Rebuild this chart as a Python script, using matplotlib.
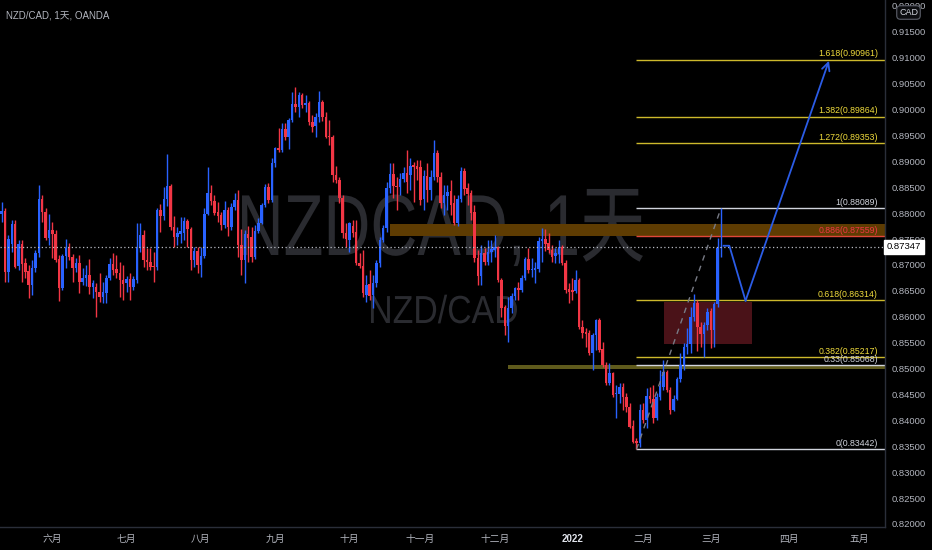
import matplotlib
matplotlib.use("Agg")
import matplotlib.pyplot as plt
from matplotlib.patches import Rectangle, PathPatch
from matplotlib.textpath import TextPath
from matplotlib.font_manager import FontProperties
from matplotlib.transforms import Affine2D
from matplotlib import font_manager
import numpy as np
import pandas as pd

# NZD/CAD daily candles, 2021-05-11 .. 2022-03-04
first_day = "2021-05-11"

opens = [
    0.8798, 0.8804, 0.8686, 0.8740, 0.8779, 0.8698, 0.8740, 0.8704, 0.8688, 0.8661,
    0.8694, 0.8723, 0.8827, 0.8802, 0.8752, 0.8767, 0.8760, 0.8711, 0.8656, 0.8717,
    0.8733, 0.8715, 0.8694, 0.8704, 0.8667, 0.8675, 0.8681, 0.8657, 0.8657, 0.8648,
    0.8638, 0.8646, 0.8675, 0.8702, 0.8692, 0.8684, 0.8671, 0.8665, 0.8673, 0.8657,
    0.8671, 0.8733, 0.8758, 0.8710, 0.8706, 0.8698, 0.8696, 0.8806, 0.8794, 0.8827,
    0.8852, 0.8773, 0.8754, 0.8760, 0.8762, 0.8785, 0.8769, 0.8710, 0.8727, 0.8700,
    0.8717, 0.8798, 0.8839, 0.8823, 0.8802, 0.8796, 0.8777, 0.8806, 0.8773, 0.8812,
    0.8825, 0.8738, 0.8710, 0.8760, 0.8754, 0.8715, 0.8765, 0.8781, 0.8816, 0.8850,
    0.8825, 0.8897, 0.8926, 0.8922, 0.8962, 0.8947, 0.8980, 0.9011, 0.9005, 0.9028,
    0.9009, 0.9013, 0.8976, 0.8968, 0.8986, 0.9014, 0.8986, 0.8949, 0.8947, 0.8874,
    0.8864, 0.8829, 0.8762, 0.8748, 0.8775, 0.8764, 0.8704, 0.8698, 0.8642, 0.8663,
    0.8642, 0.8665, 0.8704, 0.8748, 0.8771, 0.8848, 0.8875, 0.8852, 0.8850, 0.8866,
    0.8877, 0.8874, 0.8893, 0.8891, 0.8889, 0.8827, 0.8872, 0.8845, 0.8870, 0.8916,
    0.8870, 0.8819, 0.8833, 0.8843, 0.8819, 0.8781, 0.8827, 0.8881, 0.8848, 0.8839,
    0.8802, 0.8713, 0.8679, 0.8723, 0.8706, 0.8725, 0.8729, 0.8735, 0.8671, 0.8619,
    0.8582, 0.8617, 0.8640, 0.8656, 0.8652, 0.8675, 0.8711, 0.8690, 0.8690, 0.8692,
    0.8746, 0.8750, 0.8742, 0.8729, 0.8717, 0.8721, 0.8735, 0.8704, 0.8654, 0.8652,
    0.8650, 0.8671, 0.8581, 0.8571, 0.8569, 0.8530, 0.8564, 0.8594, 0.8538, 0.8507,
    0.8472, 0.8491, 0.8451, 0.8451, 0.8464, 0.8445, 0.8426, 0.8389, 0.8360, 0.8356,
    0.8420, 0.8401, 0.8447, 0.8441, 0.8404, 0.8445, 0.8464, 0.8493, 0.8459, 0.8420,
    0.8441, 0.8480, 0.8507, 0.8541, 0.8547, 0.8600, 0.8627, 0.8580, 0.8567, 0.8584,
    0.8611, 0.8574, 0.8625, 0.8733,
]
highs = [
    0.8821, 0.8810, 0.8758, 0.8787, 0.8787, 0.8748, 0.8748, 0.8713, 0.8700, 0.8710,
    0.8729, 0.8854, 0.8835, 0.8810, 0.8798, 0.8783, 0.8767, 0.8719, 0.8721, 0.8750,
    0.8742, 0.8721, 0.8713, 0.8719, 0.8694, 0.8700, 0.8711, 0.8671, 0.8665, 0.8684,
    0.8667, 0.8681, 0.8713, 0.8723, 0.8719, 0.8706, 0.8700, 0.8679, 0.8684, 0.8679,
    0.8781, 0.8781, 0.8767, 0.8733, 0.8733, 0.8725, 0.8810, 0.8818, 0.8850, 0.8914,
    0.8856, 0.8794, 0.8773, 0.8793, 0.8793, 0.8789, 0.8773, 0.8735, 0.8735, 0.8735,
    0.8810, 0.8889, 0.8854, 0.8835, 0.8821, 0.8802, 0.8823, 0.8812, 0.8819, 0.8839,
    0.8845, 0.8769, 0.8767, 0.8775, 0.8773, 0.8777, 0.8791, 0.8819, 0.8856, 0.8858,
    0.8906, 0.8928, 0.8964, 0.8974, 0.8974, 0.8984, 0.9034, 0.9043, 0.9034, 0.9032,
    0.9028, 0.9016, 0.8989, 0.8993, 0.9036, 0.9018, 0.8995, 0.8980, 0.8951, 0.8891,
    0.8870, 0.8835, 0.8781, 0.8783, 0.8787, 0.8787, 0.8723, 0.8729, 0.8681, 0.8690,
    0.8681, 0.8710, 0.8754, 0.8777, 0.8860, 0.8896, 0.8896, 0.8870, 0.8877, 0.8889,
    0.8922, 0.8906, 0.8899, 0.8903, 0.8903, 0.8883, 0.8897, 0.8883, 0.8941, 0.8922,
    0.8879, 0.8854, 0.8854, 0.8864, 0.8835, 0.8835, 0.8889, 0.8887, 0.8858, 0.8845,
    0.8816, 0.8729, 0.8738, 0.8733, 0.8748, 0.8748, 0.8758, 0.8737, 0.8675, 0.8623,
    0.8638, 0.8646, 0.8657, 0.8667, 0.8681, 0.8715, 0.8733, 0.8713, 0.8706, 0.8754,
    0.8771, 0.8769, 0.8762, 0.8738, 0.8733, 0.8748, 0.8738, 0.8710, 0.8665, 0.8675,
    0.8690, 0.8675, 0.8594, 0.8578, 0.8574, 0.8569, 0.8596, 0.8597, 0.8551, 0.8513,
    0.8511, 0.8493, 0.8468, 0.8472, 0.8472, 0.8453, 0.8434, 0.8401, 0.8366, 0.8432,
    0.8434, 0.8462, 0.8464, 0.8468, 0.8453, 0.8497, 0.8517, 0.8497, 0.8464, 0.8449,
    0.8484, 0.8530, 0.8549, 0.8578, 0.8619, 0.8644, 0.8632, 0.8590, 0.8590, 0.8617,
    0.8617, 0.8628, 0.8752, 0.88089,
]
lows = [
    0.8783, 0.8667, 0.8667, 0.8725, 0.8694, 0.8690, 0.8667, 0.8675, 0.8636, 0.8642,
    0.8686, 0.8715, 0.8783, 0.8748, 0.8738, 0.8713, 0.8706, 0.8630, 0.8652, 0.8694,
    0.8710, 0.8667, 0.8686, 0.8646, 0.8661, 0.8659, 0.8644, 0.8636, 0.8600, 0.8628,
    0.8627, 0.8627, 0.8671, 0.8681, 0.8675, 0.8638, 0.8632, 0.8648, 0.8632, 0.8652,
    0.8665, 0.8725, 0.8696, 0.8690, 0.8690, 0.8667, 0.8690, 0.8764, 0.8787, 0.8814,
    0.8767, 0.8735, 0.8738, 0.8742, 0.8748, 0.8735, 0.8690, 0.8696, 0.8684, 0.8677,
    0.8713, 0.8796, 0.8816, 0.8796, 0.8783, 0.8767, 0.8771, 0.8756, 0.8767, 0.8806,
    0.8715, 0.8681, 0.8665, 0.8706, 0.8706, 0.8711, 0.8762, 0.8779, 0.8812, 0.8819,
    0.8821, 0.8889, 0.8918, 0.8918, 0.8941, 0.8924, 0.8976, 0.8995, 0.8986, 0.9003,
    0.8995, 0.8970, 0.8957, 0.8947, 0.8976, 0.8978, 0.8945, 0.8932, 0.8860, 0.8858,
    0.8819, 0.8752, 0.8735, 0.8725, 0.8754, 0.8700, 0.8694, 0.8638, 0.8628, 0.8632,
    0.8617, 0.8657, 0.8696, 0.8745, 0.8764, 0.8839, 0.8829, 0.8806, 0.8835, 0.8860,
    0.8839, 0.8845, 0.8821, 0.8864, 0.8816, 0.8806, 0.8821, 0.8825, 0.8864, 0.8860,
    0.8810, 0.8796, 0.8806, 0.8796, 0.8777, 0.8775, 0.8821, 0.8835, 0.8816, 0.8787,
    0.8706, 0.8661, 0.8661, 0.8700, 0.8700, 0.8706, 0.8715, 0.8667, 0.8600, 0.8564,
    0.8551, 0.8607, 0.8632, 0.8632, 0.8648, 0.8671, 0.8684, 0.8677, 0.8665, 0.8686,
    0.8706, 0.8727, 0.8723, 0.8706, 0.8704, 0.8704, 0.8700, 0.8646, 0.8627, 0.8632,
    0.8646, 0.8577, 0.8559, 0.8541, 0.8526, 0.8497, 0.8536, 0.8532, 0.8503, 0.8468,
    0.8468, 0.8445, 0.8404, 0.8434, 0.8420, 0.8416, 0.8385, 0.8356, 0.83442, 0.8348,
    0.8395, 0.8385, 0.8434, 0.8395, 0.8401, 0.8439, 0.8459, 0.8455, 0.8412, 0.8418,
    0.8439, 0.8474, 0.8497, 0.8528, 0.8530, 0.8592, 0.8534, 0.8541, 0.8522, 0.8574,
    0.8540, 0.8541, 0.8619, 0.8716,
]
closes = [
    0.8804, 0.8686, 0.8750, 0.8779, 0.8696, 0.8740, 0.8702, 0.8686, 0.8661, 0.8694,
    0.8723, 0.8827, 0.8802, 0.8752, 0.8767, 0.8760, 0.8710, 0.8656, 0.8717, 0.8733,
    0.8715, 0.8694, 0.8704, 0.8667, 0.8675, 0.8681, 0.8657, 0.8665, 0.8648, 0.8638,
    0.8648, 0.8675, 0.8702, 0.8690, 0.8684, 0.8671, 0.8663, 0.8673, 0.8657, 0.8673,
    0.8733, 0.8758, 0.8710, 0.8706, 0.8696, 0.8696, 0.8806, 0.8794, 0.8827, 0.8852,
    0.8773, 0.8754, 0.8762, 0.8765, 0.8785, 0.8769, 0.8710, 0.8727, 0.8700, 0.8717,
    0.8798, 0.8839, 0.8823, 0.8800, 0.8794, 0.8777, 0.8806, 0.8773, 0.8812, 0.8825,
    0.8738, 0.8710, 0.8760, 0.8752, 0.8715, 0.8765, 0.8781, 0.8816, 0.8850, 0.8825,
    0.8897, 0.8926, 0.8922, 0.8962, 0.8947, 0.8980, 0.9011, 0.9005, 0.9028, 0.9009,
    0.9013, 0.8976, 0.8966, 0.8986, 0.9014, 0.8986, 0.8947, 0.8947, 0.8874, 0.8864,
    0.8829, 0.8762, 0.8750, 0.8781, 0.8762, 0.8704, 0.8698, 0.8646, 0.8661, 0.8640,
    0.8665, 0.8704, 0.8748, 0.8771, 0.8848, 0.8875, 0.8852, 0.8850, 0.8866, 0.8877,
    0.8860, 0.8891, 0.8889, 0.8885, 0.8825, 0.8872, 0.8845, 0.8870, 0.8916, 0.8870,
    0.8819, 0.8835, 0.8841, 0.8816, 0.8781, 0.8827, 0.8881, 0.8846, 0.8837, 0.8800,
    0.8713, 0.8679, 0.8723, 0.8706, 0.8725, 0.8731, 0.8735, 0.8671, 0.8617, 0.8582,
    0.8617, 0.8640, 0.8656, 0.8652, 0.8675, 0.8711, 0.8690, 0.8692, 0.8694, 0.8746,
    0.8750, 0.8740, 0.8729, 0.8715, 0.8723, 0.8735, 0.8704, 0.8652, 0.8648, 0.8648,
    0.8671, 0.8581, 0.8569, 0.8567, 0.8530, 0.8564, 0.8594, 0.8536, 0.8507, 0.8472,
    0.8491, 0.8449, 0.8453, 0.8464, 0.8445, 0.8426, 0.8387, 0.8358, 0.8356, 0.8420,
    0.8401, 0.8447, 0.8441, 0.8404, 0.8445, 0.8466, 0.8493, 0.8459, 0.8420, 0.8441,
    0.8480, 0.8507, 0.8541, 0.8547, 0.8600, 0.8627, 0.8580, 0.8567, 0.8584, 0.8609,
    0.8574, 0.8625, 0.8733, 0.87347,
]

# fibonacci drawing (low bar -> high bar)
fib_ratios = ["1.618", "1.382", "1.272", "1", "0.886", "0.618", "0.382", "0.33", "0"]
fib_prices = [0.90961, 0.89864, 0.89353, 0.88089, 0.87559, 0.86314, 0.85217, 0.85068, 0.83442]
fib_kinds = ["y", "y", "y", "w", "r", "y", "y", "w", "w"]
fib_low_bar = 188
fib_high_bar = 213

# zones
orange_zone = (115, 0.8756, 0.8779)      # start bar, bottom, top
olive_zone = (150, 0.8500, 0.8507)
red_box = (196.1, 222.2, 0.8547, 0.8628)  # bar from, bar to, bottom, top

# projected path
path_bars = [213.8, 215.5, 220.3, 245.0]
path_prices = [0.8737, 0.8737, 0.8631, 0.9094]

month_names = ["一月", "二月", "三月", "四月", "五月", "六月", "七月",
               "八月", "九月", "十月", "十一月", "十二月"]

UP = "#2962ff"
DOWN = "#f23645"
TXT = "#b2b5be"
FIB_Y_LINE = "#cdb92c"
FIB_Y_TXT = "#f0dc3c"
FIB_W = "#d1d4dc"
FIB_R_LINE = "#e0473a"
FIB_R_TXT = "#f23645"
WM = "#2a2b30"

names = {f.name for f in font_manager.fontManager.ttflist}
base_font = "Liberation Sans" if "Liberation Sans" in names else "DejaVu Sans"
plt.rcParams["font.family"] = [base_font, "Noto Sans CJK SC", "DejaVu Sans"]

fig = plt.figure(figsize=(9.32, 5.5), dpi=100, facecolor="black")
ax = fig.add_axes([0, 23 / 550, 885 / 932, 527 / 550])
ax.set_facecolor("black")

x_left, x_right = -0.5, 261.6
ax.set_xlim(x_left, x_right)
ax.set_ylim(0.81942, 0.92113)

wm_family = [base_font, "Noto Sans CJK SC"]


def watermark(text, left, right, baseline, cap):
    # text stretched into a pixel box (left/right edge, baseline, cap height)
    try:
        tp = TextPath((0, 0), text, size=100, prop=FontProperties(family=wm_family))
        bb = tp.get_extents()
        sx = (right - left) / bb.width
        sy = cap / 71.6
        tr = Affine2D().translate(-bb.x0, 0).scale(sx, sy).translate(left, 550 - baseline)
        ax.add_patch(PathPatch(tp, transform=tr, facecolor=WM, edgecolor="none", zorder=0))
    except Exception:
        ax.text((left + right) / 2 / 885, (527 - baseline) / 527, text,
                transform=ax.transAxes, ha="center", va="baseline",
                fontsize=cap * 1.0, color=WM, family=wm_family, zorder=0)


watermark("NZDCAD, 1天", 242, 643, 255, 62)
watermark("NZD/CAD", 371, 517, 323, 28)

# zones
ax.add_patch(Rectangle((orange_zone[0], orange_zone[1]), x_right - orange_zone[0],
                       orange_zone[2] - orange_zone[1], facecolor="#5e3c02",
                       edgecolor="none", zorder=1))
ax.add_patch(Rectangle((olive_zone[0], olive_zone[1]), x_right - olive_zone[0],
                       olive_zone[2] - olive_zone[1], facecolor="#5f5a1c",
                       edgecolor="none", zorder=1))
ax.add_patch(Rectangle((red_box[0], red_box[2]), red_box[1] - red_box[0],
                       red_box[3] - red_box[2], facecolor="#4a1218",
                       edgecolor="none", zorder=1))

# candles
o = np.array(opens)
h = np.array(highs)
l = np.array(lows)
c = np.array(closes)
idx = np.arange(len(c))
cols = np.where(c >= o, UP, DOWN)
ax.vlines(idx, l, h, colors=cols, linewidth=1.0, zorder=3)
ax.bar(idx, np.maximum(np.abs(c - o), 0.00006), bottom=np.minimum(o, c),
       width=0.74, color=cols, linewidth=0, zorder=4)

# current price dotted line
ax.axhline(c[-1], color="#b8bbc3", linewidth=0.9, linestyle=(0, (1, 2)), zorder=5)

# fib levels
line_cols = {"y": FIB_Y_LINE, "w": FIB_W, "r": FIB_R_LINE}
text_cols = {"y": FIB_Y_TXT, "w": FIB_W, "r": FIB_R_TXT}
for ratio, price, kind in zip(fib_ratios, fib_prices, fib_kinds):
    ax.hlines(price, fib_low_bar, x_right, colors=line_cols[kind], linewidth=1.0, zorder=2)
    ax.text(259.5, price + 0.00028, f"{ratio}({price:.5f})", ha="right", va="bottom",
            fontsize=6.3, color=text_cols[kind], zorder=6)

# fib trend line
ax.plot([fib_low_bar, fib_high_bar], [l[fib_low_bar], h[fib_high_bar]],
        color="#787b86", linewidth=1.0, linestyle=(0, (4, 4)), zorder=5)

# projection
ax.plot(path_bars[:-1], path_prices[:-1], color="#2b5ce6", linewidth=1.3, zorder=6)
ax.annotate("", xy=(path_bars[-1], path_prices[-1]),
            xytext=(path_bars[-2], path_prices[-2]),
            arrowprops=dict(arrowstyle="->", color="#2b5ce6", lw=1.3,
                            mutation_scale=14, shrinkA=0, shrinkB=0),
            zorder=6)

# x axis: month starts from business-day calendar
dates = pd.bdate_range(first_day, periods=int(x_right) + 1)
tick_pos, tick_lab = [], []
for i in range(1, len(dates)):
    if dates[i].month != dates[i - 1].month:
        tick_pos.append(i)
        d = dates[i]
        tick_lab.append(str(d.year) if d.month == 1 else month_names[d.month - 1])
ax.set_xticks(tick_pos)
ax.set_xticklabels(tick_lab)
ax.tick_params(axis="x", length=0, pad=5, labelsize=7, colors=TXT)
for t in ax.get_xticklabels():
    if t.get_text().isdigit():
        t.set_color("#e0e3eb")
        t.set_fontweight("bold")

# y axis on the right
yt = np.arange(0.820, 0.9201, 0.005)
ax.yaxis.tick_right()
ax.set_yticks(yt)
ax.set_yticklabels([f"{v:.5f}" for v in yt])
ax.tick_params(axis="y", length=0, pad=5, labelsize=6.8, colors=TXT)

for s in ["top", "left"]:
    ax.spines[s].set_visible(False)
for s in ["right", "bottom"]:
    ax.spines[s].set_color("#2a2e39")
    ax.spines[s].set_linewidth(1)

# last price label
ax.text(1.002, c[-1], f"{c[-1]:.5f}", transform=ax.get_yaxis_transform(),
        ha="left", va="center", fontsize=6.8, color="black", zorder=10, clip_on=False,
        bbox=dict(boxstyle="square,pad=0.25", facecolor="white", edgecolor="white"))

# currency badge
fig.text(908.5 / 932, 1 - 12.5 / 550, "CAD", ha="center", va="center", fontsize=6.5,
         color="#d1d4dc", zorder=10,
         bbox=dict(boxstyle="round,pad=0.25,rounding_size=0.4", facecolor="#0c0d10",
                   edgecolor="#5d606b", linewidth=0.8))

# legend title
fig.text(6 / 932, 1 - 15 / 550, "NZD/CAD, 1天, OANDA", ha="left", va="center",
         fontsize=7, color=TXT)

fig.savefig("out.png", dpi=100, facecolor="black")
